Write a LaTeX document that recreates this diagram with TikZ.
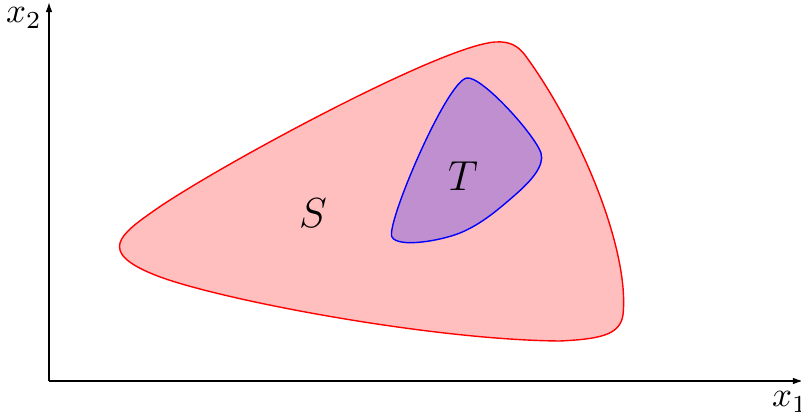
\documentclass[tikz,border=0pt]{standalone}
\usetikzlibrary{arrows.meta}
\begin{document}
\begin{tikzpicture}[x=0.2857pt,y=-0.2857pt,
  axis/.style={line width=0.4pt,-{Latex[length=2.9pt,width=1.9pt]}},
  setS/.style={draw=red,fill=red!25,line width=0.4pt},
  setT/.style={draw=blue,fill=blue,fill opacity=0.25,draw opacity=1,line width=0.4pt}]
\useasboundingbox (0,0) rectangle (801,416);
\coordinate (O) at (49,381);
\coordinate (X) at (803,381);
\coordinate (Y) at (49,2);
\draw[axis] (O) -- (X);
\draw[axis] (O) -- (Y);
\node (lx1) at (790,402) {$x_1$};
\node (lx2) at (24,18) {$x_2$};
\draw[setS] (155,210) .. controls (215,168) and (440,46) .. (495,42)
  .. controls (510,41) and (518,46) .. (525,55)
  .. controls (580,130) and (630,250) .. (623,315)
  .. controls (620,335) and (600,339) .. (560,341)
  .. controls (430,340) and (215,299) .. (155,275)
  .. controls (96.9,251.8) and (119.8,234.6) .. cycle;
\draw[setT] (467,78) .. controls (482,76) and (535,135) .. (541,153)
  .. controls (545,166) and (530,182) .. (515,195)
  .. controls (500,208) and (482,224) .. (460,233)
  .. controls (440,241) and (398,248) .. (392,237)
  .. controls (385,226) and (447,80) .. cycle;
\node[font=\large] (S) at (313,213) {$S$};
\node[font=\large] (T) at (463,176) {$T$};
\end{tikzpicture}
\end{document}
